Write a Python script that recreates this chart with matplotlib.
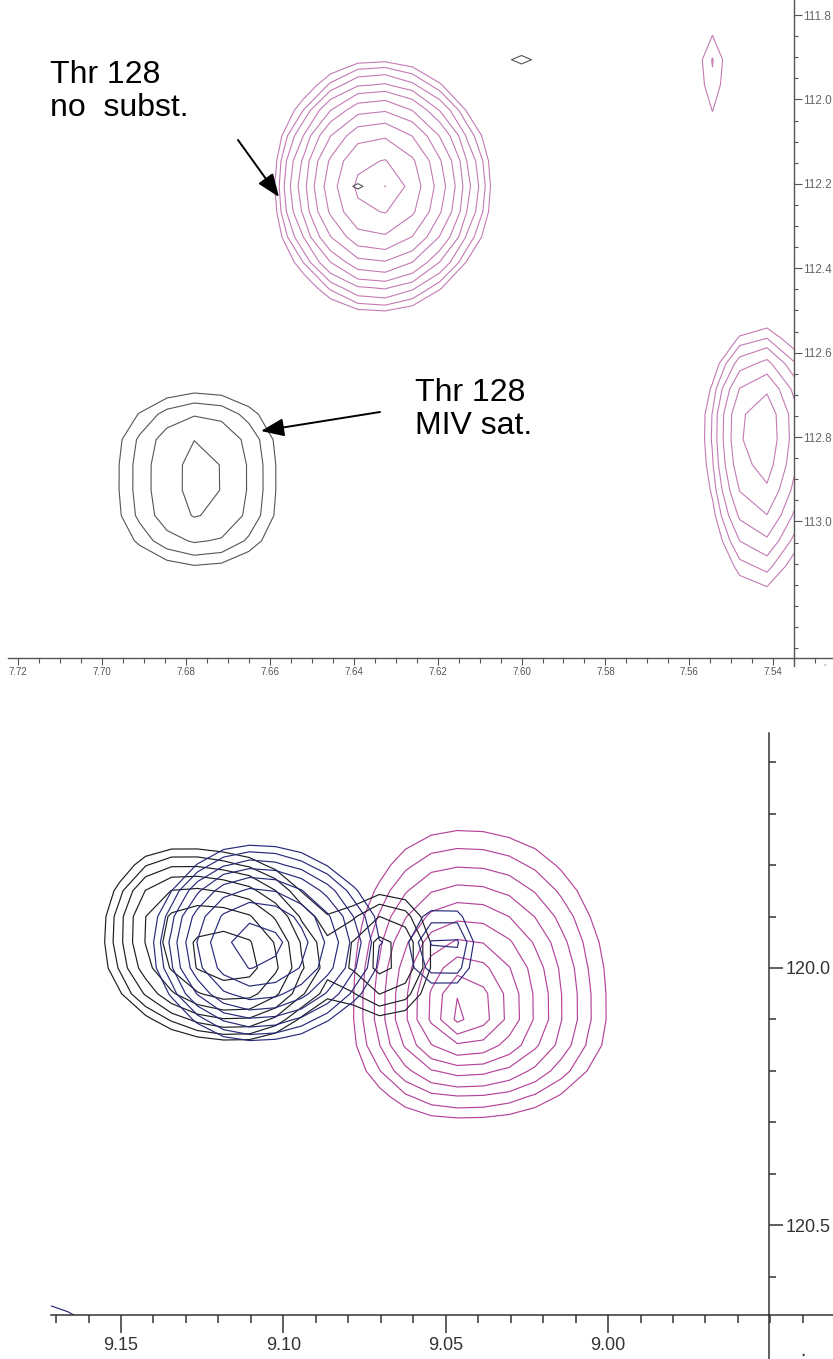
import numpy as np
import matplotlib
matplotlib.use("Agg")
import matplotlib.pyplot as plt
from matplotlib.patches import FancyArrowPatch
from matplotlib.lines import Line2D
from matplotlib.ticker import FixedLocator, MultipleLocator

# ------------------------------------------------------------------
# DATA
# ------------------------------------------------------------------
# --- top panel: 1H (x) / 15N (y) ppm ---
top_x_ticks = [7.72, 7.70, 7.68, 7.66, 7.64, 7.62, 7.60, 7.58, 7.56, 7.54]
top_x_labels = ["7.72", "7.70", "7.68", "7.66", "7.64", "7.62", "7.60", "7.58", "7.56", "7.54"]
top_y_ticks = [111.8, 112.0, 112.2, 112.4, 112.6, 112.8, 113.0]
top_y_labels = ["111.8", "112.0", "112.2", "112.4", "112.6", "112.8", "113.0"]

# pink spectrum (no substrate) peaks
top_pink_x0 = [7.6345, 7.6325, 7.5430, 7.5545]
top_pink_y0 = [112.206, 112.206, 112.778, 111.906]
top_pink_amp = [8.33, 1.1, 3.65, 1.27]
top_pink_sx_left = [0.0118, 0.002, 0.008, 0.005]
top_pink_sx_right = [0.0130, 0.002, 0.008, 0.005]
top_pink_sy_up = [0.143, 0.01, 0.146, 0.085]
top_pink_sy_down = [0.143, 0.01, 0.235, 0.177]
top_pink_levels = [1.0, 1.25, 1.5625, 1.953, 2.441, 3.052, 3.815, 4.768, 5.96, 7.45, 9.31]

# grey spectrum (MIV saturated) peaks
top_grey_x0 = [7.6766, 7.6766, 7.639, 7.600]
top_grey_y0 = [112.80, 113.00, 112.206, 111.906]
top_grey_amp = [1.7, 1.7, 1.12, 1.2]
top_grey_sx_left = [0.016, 0.016, 0.005, 0.0059]
top_grey_sx_right = [0.015, 0.015, 0.005, 0.0059]
top_grey_sy_up = [0.10, 0.10, 0.015, 0.015]
top_grey_sy_down = [0.10, 0.10, 0.015, 0.015]
top_grey_levels = [1.0, 1.25, 1.5625, 1.953]

# --- bottom panel ---
bot_x_ticks = [9.15, 9.10, 9.05, 9.00]
bot_x_labels = ["9.15", "9.10", "9.05", "9.00"]
bot_y_ticks = [120.0, 120.5]
bot_y_labels = ["120.0", "120.5"]

# magenta spectrum
bot_pink_x0 = [9.0452]
bot_pink_y0 = [120.085]
bot_pink_amp = [9.31]
bot_pink_sx_left = [0.00743]
bot_pink_sx_right = [0.00993]
bot_pink_sy_up = [0.0785]
bot_pink_sy_down = [0.0457]
bot_pink_levels = [1.0, 1.25, 1.5625, 1.953, 2.441, 3.052, 3.815, 4.768, 5.96, 7.45]

# black spectrum
bot_black_x0 = [9.1145, 9.138, 9.0678]
bot_black_y0 = [119.994, 119.875, 119.975]
bot_black_amp = [4.2, 1.2, 2.1]
bot_black_sx_left = [0.022, 0.011, 0.011]
bot_black_sx_right = [0.016, 0.013, 0.011]
bot_black_sy_up = [0.12, 0.08, 0.095]
bot_black_sy_down = [0.085, 0.08, 0.095]
bot_black_levels = [1.0, 1.25, 1.5625, 1.953, 2.441, 3.052, 3.815]

# navy spectrum
bot_navy_x0 = [9.1093, 9.0497, 9.19]
bot_navy_y0 = [119.956, 119.96, 120.78]
bot_navy_amp = [5.3, 1.7, 1.5]
bot_navy_sx_left = [0.0165, 0.008, 0.0443]
bot_navy_sx_right = [0.021, 0.008, 0.0443]
bot_navy_sy_up = [0.105, 0.07, 0.157]
bot_navy_sy_down = [0.10, 0.07, 0.157]
bot_navy_levels = [1.0, 1.25, 1.5625, 1.953, 2.441, 3.052, 3.815, 4.768]

# ------------------------------------------------------------------
W, H = 833, 1359
fig = plt.figure(figsize=(W / 100, H / 100), dpi=100)
fig.patch.set_facecolor("white")


def peaks_field(X, Y, x0s, y0s, amps, sxl, sxr, syu, syd, p=2.0, q=2.0):
    Z = np.zeros_like(X)
    for x0, y0, a, a1, a2, b1, b2 in zip(x0s, y0s, amps, sxl, sxr, syu, syd):
        dx = X - x0
        dy = Y - y0
        sx = np.where(dx > 0, a1, a2)  # larger ppm = left on screen
        sy = np.where(dy > 0, b2, b1)  # larger ppm = lower on screen
        r = (np.abs(dx / sx) ** q + np.abs(dy / sy) ** q) ** (1.0 / q)
        Z += a * np.exp(-0.5 * r ** p)
    return Z


def ax_rect(x0, y0, x1, y1):
    return [x0 / W, 1 - y1 / H, (x1 - x0) / W, (y1 - y0) / H]


def fpx(x, y):
    return (x / W, 1 - y / H)


small_font = ["Liberation Sans Narrow", "Liberation Sans", "DejaVu Sans"]
big_font = ["Liberation Sans", "DejaVu Sans"]

# ------------------------- TOP PANEL -------------------------------
ax1 = fig.add_axes(ax_rect(0, 0, W, 658))
x1_left = 7.72 + 18 / 4196.0
x1_right = 7.72 - 815 / 4196.0
y1_top = 111.8 - 15 / 422.0
y1_bot = 111.8 + 643 / 422.0
x1_axis = 7.535
ax1.set_xlim(x1_left, x1_right)
ax1.set_ylim(y1_bot, y1_top)

xg1 = x1_axis + 0.0065 * np.arange(0, 31)
yg1 = 111.726 + 0.06 * np.arange(0, 28)
X1, Y1 = np.meshgrid(xg1, yg1)
Zp = peaks_field(X1, Y1, top_pink_x0, top_pink_y0, top_pink_amp,
                 top_pink_sx_left, top_pink_sx_right, top_pink_sy_up, top_pink_sy_down)
Zg = peaks_field(X1, Y1, top_grey_x0, top_grey_y0, top_grey_amp,
                 top_grey_sx_left, top_grey_sx_right, top_grey_sy_up, top_grey_sy_down)
ax1.contour(X1, Y1, Zp, levels=top_pink_levels, colors="#c47ab4", linewidths=0.8)
ax1.contour(X1, Y1, Zg, levels=top_grey_levels, colors="#555555", linewidths=0.8)

for s in ["left", "top"]:
    ax1.spines[s].set_visible(False)
ax1.spines["right"].set_position(("data", x1_axis))
for s in ["right", "bottom"]:
    ax1.spines[s].set_color("#555555")
    ax1.spines[s].set_linewidth(1.0)
ax1.spines["bottom"].set_bounds(7.72 + 10 / 4196.0, x1_right)
ax1.yaxis.tick_right()
ax1.xaxis.set_major_locator(FixedLocator(top_x_ticks))
ax1.set_xticklabels(top_x_labels)
ax1.xaxis.set_minor_locator(MultipleLocator(0.005))
ax1.yaxis.set_major_locator(FixedLocator(top_y_ticks))
ax1.set_yticklabels(top_y_labels)
ax1.yaxis.set_minor_locator(MultipleLocator(0.05))
ax1.tick_params(axis="x", which="major", direction="out", length=5, width=0.8,
                color="#555555", labelsize=7, labelcolor="#555555", pad=1.5)
ax1.tick_params(axis="x", which="minor", direction="out", length=3.5, width=0.8, color="#555555")
ax1.tick_params(axis="y", which="major", direction="out", length=6, width=0.8,
                color="#555555", labelsize=8.5, labelcolor="#666666", pad=0.5)
ax1.tick_params(axis="y", which="minor", direction="out", length=3, width=0.8, color="#555555")
for lab in ax1.get_xticklabels():
    lab.set_family(small_font)
for lab in ax1.get_yticklabels():
    lab.set_family(big_font)

# annotations top panel
fig.text(*fpx(50, 75), "Thr 128", fontsize=23, family=big_font, va="center", ha="left")
fig.text(*fpx(50, 108), "no  subst.", fontsize=23, family=big_font, va="center", ha="left")
fig.text(*fpx(415, 393), "Thr 128", fontsize=23, family=big_font, va="center", ha="left")
fig.text(*fpx(415, 426), "MIV sat.", fontsize=23, family=big_font, va="center", ha="left")
for tail, head in [((238, 140), (279, 197)), ((380, 412), (261, 431))]:
    fig.add_artist(FancyArrowPatch(fpx(*tail), fpx(*head), transform=fig.transFigure,
                                   arrowstyle="-|>,head_length=14,head_width=5.5",
                                   color="black", lw=1.4, shrinkA=0, shrinkB=0,
                                   mutation_scale=1))
fig.text(*fpx(824, 668), "'", fontsize=6, color="#777777", ha="center", va="center")

# ------------------------- BOTTOM PANEL ----------------------------
ax2 = fig.add_axes(ax_rect(51, 733, W, 1315))
x2_left = 9.15 + 70 / 3247.0
x2_right = 9.15 - 712 / 3247.0
x2_axis = 9.15 - 648 / 3247.0
y2_top = 120.0 - 235 / 515.0
y2_bot = 120.0 + 347 / 515.0
ax2.set_xlim(x2_left, x2_right)
ax2.set_ylim(y2_bot, y2_top)

xg2 = x2_axis + 0.008 * np.arange(0, 33)
yg2 = 119.50 + 0.05 * np.arange(0, 29)
X2, Y2 = np.meshgrid(xg2, yg2)
Zpk = peaks_field(X2, Y2, bot_pink_x0, bot_pink_y0, bot_pink_amp,
                  bot_pink_sx_left, bot_pink_sx_right, bot_pink_sy_up, bot_pink_sy_down,
                  p=1.0, q=2.3)
Zbk = peaks_field(X2, Y2, bot_black_x0, bot_black_y0, bot_black_amp,
                  bot_black_sx_left, bot_black_sx_right, bot_black_sy_up, bot_black_sy_down)
Znv = peaks_field(X2, Y2, bot_navy_x0, bot_navy_y0, bot_navy_amp,
                  bot_navy_sx_left, bot_navy_sx_right, bot_navy_sy_up, bot_navy_sy_down)
ax2.contour(X2, Y2, Zpk, levels=bot_pink_levels, colors="#b4449a", linewidths=0.85)
ax2.contour(X2, Y2, Zbk, levels=bot_black_levels, colors="#1c1c24", linewidths=0.85)
ax2.contour(X2, Y2, Znv, levels=bot_navy_levels, colors="#27287a", linewidths=0.85)

for s in ["left", "top"]:
    ax2.spines[s].set_visible(False)
ax2.spines["right"].set_position(("data", x2_axis))
for s in ["right", "bottom"]:
    ax2.spines[s].set_color("#333333")
    ax2.spines[s].set_linewidth(1.1)
ax2.yaxis.tick_right()
ax2.xaxis.set_major_locator(FixedLocator(bot_x_ticks))
ax2.set_xticklabels(bot_x_labels)
ax2.xaxis.set_minor_locator(MultipleLocator(0.01))
ax2.yaxis.set_major_locator(FixedLocator(bot_y_ticks))
ax2.set_yticklabels(bot_y_labels)
ax2.yaxis.set_minor_locator(MultipleLocator(0.1))
ax2.tick_params(axis="x", which="major", direction="out", length=13, width=1.1,
                color="#333333", labelsize=13, labelcolor="#333333", pad=3)
ax2.tick_params(axis="x", which="minor", direction="out", length=6, width=1.1, color="#333333")
ax2.tick_params(axis="y", which="major", direction="out", length=10, width=1.1,
                color="#333333", labelsize=13, labelcolor="#333333", pad=2)
ax2.tick_params(axis="y", which="minor", direction="out", length=5, width=1.1, color="#333333")
for lab in ax2.get_xticklabels() + ax2.get_yticklabels():
    lab.set_family(small_font)

# axis lines continue past the crossing point
fig.add_artist(Line2D([769 / W, 769 / W], [0, 1 - 1315 / H], color="#333333", lw=1.1))
fig.add_artist(Line2D([794 / W, 794 / W], [1 - 658 / H, 1 - 666 / H], color="#555555", lw=1.0))
fig.text(*fpx(803, 1351), ".", fontsize=12, color="#222222", ha="center", va="center")

fig.savefig("out.png", dpi=100, facecolor="white")
